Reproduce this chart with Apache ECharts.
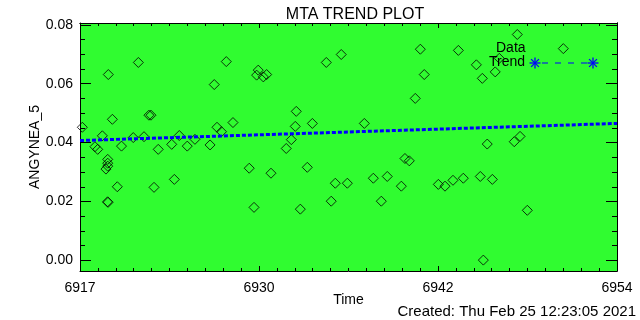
<!DOCTYPE html>
<html>
<head>
<meta charset="utf-8">
<script src="https://cdn.jsdelivr.net/npm/echarts@6/dist/echarts.min.js"></script>
<style>
  html, body { margin: 0; padding: 0; background: #fff; }
  #chart { width: 640px; height: 320px; }
</style>
</head>
<body>
<div id="chart"></div>
<script>
// observed values (time in days, ANGYNEA_5)
var timeVals = [6917.56, 6918.43, 6918.62, 6918.94, 6919.19, 6919.31, 6919.31, 6919.31, 6919.30, 6919.33,
  6919.35, 6919.63, 6919.97, 6920.26, 6921.07, 6921.42, 6921.81, 6922.15, 6922.29, 6922.50,
  6922.79, 6923.72, 6923.90, 6924.24, 6924.79, 6925.32, 6926.36, 6926.65, 6926.84, 6927.15,
  6927.48, 6927.94, 6929.06, 6929.39, 6929.68, 6929.57, 6930.03, 6930.26, 6930.56, 6931.61,
  6931.96, 6932.23, 6932.30, 6932.58, 6933.06, 6933.41, 6934.37, 6934.71, 6934.99, 6935.40,
  6935.82, 6936.99, 6937.61, 6938.16, 6938.57, 6939.54, 6939.79, 6940.09, 6940.50, 6940.85,
  6941.12, 6942.09, 6942.55, 6943.10, 6943.47, 6943.81, 6944.71, 6944.98, 6945.12, 6945.19,
  6945.46, 6945.81, 6946.01, 6946.29, 6947.32, 6947.53, 6947.72, 6948.22, 6950.70];
var angVals = [0.0452, 0.0386, 0.0377, 0.0423, 0.0310, 0.0343, 0.0330, 0.0320, 0.0199, 0.0197,
  0.0631, 0.0479, 0.0250, 0.0388, 0.0417, 0.0672, 0.0420, 0.0493, 0.0493, 0.0248,
  0.0377, 0.0394, 0.0275, 0.0424, 0.0388, 0.0411, 0.0392, 0.0597, 0.0452, 0.0437,
  0.0675, 0.0468, 0.0313, 0.0180, 0.0646, 0.0629, 0.0623, 0.0631, 0.0296, 0.0380,
  0.0410, 0.0455, 0.0506, 0.0174, 0.0316, 0.0465, 0.0672, 0.0201, 0.0262, 0.0699,
  0.0262, 0.0465, 0.0279, 0.0201, 0.0285, 0.0252, 0.0346, 0.0338, 0.0550, 0.0717,
  0.0631, 0.0258, 0.0252, 0.0272, 0.0713, 0.0279, 0.0664, 0.0285, 0.0618, 0.0001,
  0.0395, 0.0275, 0.0640, 0.0686, 0.0403, 0.0767, 0.0421, 0.0170, 0.0719];

// linear trend end points
var trendTime = [6917.4, 6954.4];
var trendVals = [0.0407, 0.0465];

// axis ranges and labels
var xMin = 6917.4, xMax = 6954.4;
var xTickLabels = ['6917', '6930', '6942', '6954'];
var yMin = -0.0036, yMax = 0.0806;
var yTicks = [0, 0.02, 0.04, 0.06, 0.08];
var yTickLabels = ['0.00', '0.02', '0.04', '0.06', '0.08'];

var FONT = "'Liberation Sans', 'DejaVu Sans', sans-serif";

var xMajor = [], xMinor = [];
for (var i = 0; i <= 30; i++) {
  var v = xMin + i * (xMax - xMin) / 30;
  if (i % 10 === 0) xMajor.push(v); else xMinor.push(v);
}
var yMinor = [];
for (var k = 0; k <= 16; k++) {
  if (k % 4 !== 0) yMinor.push(k * 0.005);
}

function nearestIdx(arr, val) {
  var best = 0;
  for (var j = 1; j < arr.length; j++) {
    if (Math.abs(arr[j] - val) < Math.abs(arr[best] - val)) best = j;
  }
  return best;
}

var dataPts = timeVals.map(function (t, i) { return [t, angVals[i]]; });
var trendPts = trendTime.map(function (t, i) { return [t, trendVals[i]]; });

function xAx(pos, ticks, len, withLabel) {
  return {
    type: 'value', position: pos, min: xMin, max: xMax,
    axisLine: { show: withLabel || pos === 'top', onZero: false, lineStyle: { color: '#000', width: 1 } },
    axisTick: { show: true, inside: true, length: len, customValues: ticks, lineStyle: { color: '#000' } },
    axisLabel: withLabel ? {
      show: true, customValues: xMajor, margin: 10, color: '#000', fontSize: 14, fontFamily: FONT,
      showMinLabel: true, showMaxLabel: true,
      formatter: function (val) { return xTickLabels[nearestIdx(xMajor, val)]; }
    } : { show: false },
    splitLine: { show: false },
    name: withLabel ? 'Time' : '',
    nameLocation: 'middle', nameGap: 22, nameMoveOverlap: false,
    nameTextStyle: { color: '#000', fontSize: 14, fontFamily: FONT }
  };
}

function yAx(pos, ticks, len, withLabel) {
  return {
    type: 'value', position: pos, min: yMin, max: yMax,
    axisLine: { show: withLabel || pos === 'right', onZero: false, lineStyle: { color: '#000', width: 1 } },
    axisTick: { show: true, inside: true, length: len, customValues: ticks, lineStyle: { color: '#000' } },
    axisLabel: withLabel ? {
      show: true, customValues: yTicks, margin: 7, color: '#000', fontSize: 14, fontFamily: FONT,
      showMinLabel: true, showMaxLabel: true,
      formatter: function (val) { return yTickLabels[nearestIdx(yTicks, val)]; }
    } : { show: false },
    splitLine: { show: false },
    name: withLabel ? 'ANGYNEA_5' : '',
    nameLocation: 'middle', nameRotate: 90, nameGap: 38, nameMoveOverlap: false,
    nameTextStyle: { color: '#000', fontSize: 14, fontFamily: FONT }
  };
}

// asterisk shape for the legend, built from four short lines
function star(cx, cy, r) {
  var d = r * 0.7071;
  var segs = [[-r, 0, r, 0], [0, -r, 0, r], [-d, -d, d, d], [-d, d, d, -d]];
  return {
    type: 'group',
    children: segs.map(function (s) {
      return {
        type: 'line',
        shape: { x1: cx + s[0], y1: cy + s[1], x2: cx + s[2], y2: cy + s[3] },
        style: { stroke: '#0000ff', lineWidth: 1.3 }
      };
    })
  };
}

var chart = echarts.init(document.getElementById('chart'), null, { renderer: 'canvas' });
chart.setOption({
  animation: false,
  backgroundColor: '#ffffff',
  title: {
    text: 'MTA TREND PLOT', left: 350, top: 2, textAlign: 'center',
    textStyle: { color: '#000', fontSize: 16, fontWeight: 'normal', fontFamily: FONT }
  },
  grid: {
    left: 80, right: 23, top: 23, bottom: 49,
    show: true, backgroundColor: '#30fc30', borderWidth: 0
  },
  xAxis: [
    xAx('bottom', xMajor, 5, true),
    xAx('bottom', xMinor, 3, false),
    xAx('top', xMajor, 5, false),
    xAx('top', xMinor, 3, false)
  ],
  yAxis: [
    yAx('left', yTicks, 11, true),
    yAx('left', yMinor, 5, false),
    yAx('right', yTicks, 11, false),
    yAx('right', yMinor, 5, false)
  ],
  series: [
    {
      name: 'Data', type: 'scatter', data: dataPts,
      symbol: 'diamond', symbolSize: 10,
      itemStyle: { color: 'rgba(0,0,0,0)', borderColor: '#000', borderWidth: 1 }
    },
    {
      name: 'Trend', type: 'line', data: trendPts, showSymbol: false,
      lineStyle: { color: '#0000ff', width: 3, type: [4, 2] }
    }
  ],
  graphic: [
    { type: 'text', x: 496, y: 41, style: { text: 'Data', fill: '#000', fontSize: 14, fontFamily: FONT } },
    { type: 'text', x: 489, y: 55, style: { text: 'Trend', fill: '#000', fontSize: 14, fontFamily: FONT } },
    star(535, 63, 5.5),
    {
      type: 'line', shape: { x1: 542, y1: 63, x2: 587, y2: 63 },
      style: { stroke: '#0000ff', lineWidth: 1, lineDash: [6, 7] }
    },
    star(593, 63, 5.5),
    {
      type: 'text', right: 4, bottom: 1,
      style: { text: 'Created: Thu Feb 25 12:23:05 2021', fill: '#000', fontSize: 15, fontFamily: FONT }
    }
  ]
});
</script>
</body>
</html>
